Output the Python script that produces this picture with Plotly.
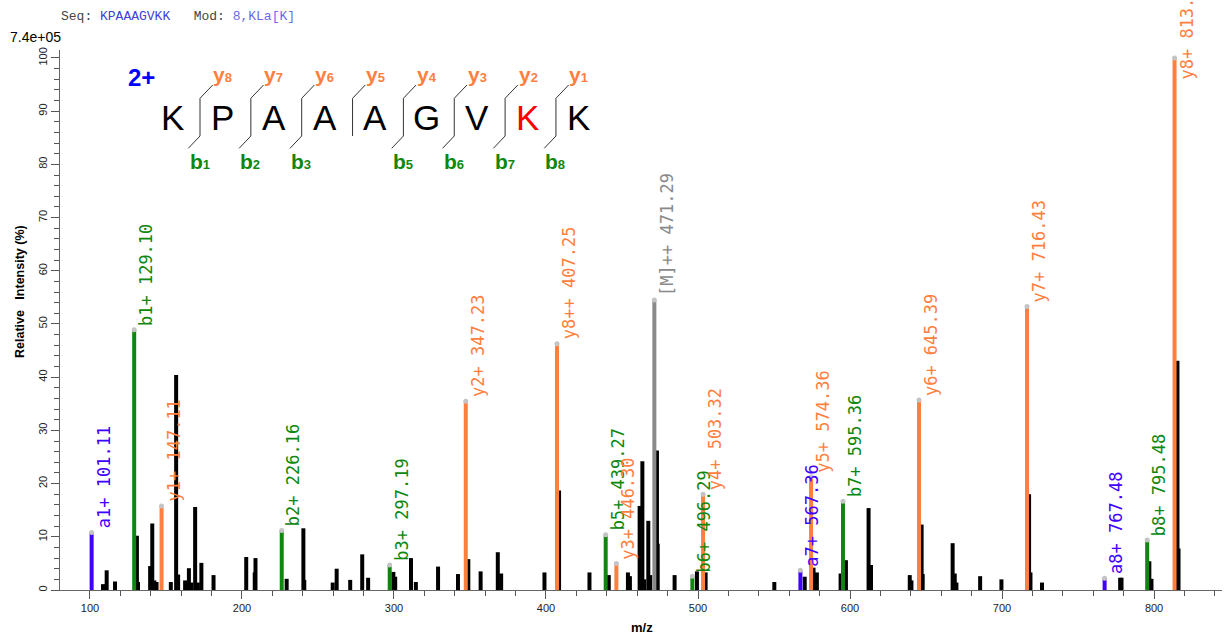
import plotly.graph_objects as go

# ---- precursor information ----
sequence = "KPAAAGVKK"
modification = "8,KLa[K]"
modified_site = 8            # 1-based residue position drawn in red
charge_state = "2+"
base_peak = "7.4e+05"

# ---- matched fragment ions ----
ion_names = ["a1+", "b1+", "y1+", "b2+", "b3+", "y2+", "y8++", "b5+", "y3+", "[M]++",
             "b6+", "y4+", "a7+", "y5+", "b7+", "y6+", "y7+", "a8+", "b8+", "y8+"]
ion_mz = [101.11, 129.10, 147.11, 226.16, 297.19, 347.23, 407.25, 439.27, 446.30, 471.29,
          496.29, 503.32, 567.36, 574.36, 595.36, 645.39, 716.43, 767.48, 795.48, 813.49]
ion_intensity = [10.8, 48.9, 15.8, 11.2, 4.7, 35.5, 46.3, 10.4, 5.0, 54.5,
                 2.6, 18.0, 3.7, 21.3, 16.7, 35.7, 53.3, 2.2, 9.4, 100.0]
ion_series = ["a", "b", "y", "b", "b", "y", "y", "b", "y", "M",
              "b", "y", "a", "y", "b", "y", "y", "a", "b", "y"]

# ---- unassigned peaks ----
peak_mz = [108.6, 111.0, 116.5, 130.9, 131.6, 139.6, 141.0, 142.3, 143.8, 153.2,
           156.7, 158.0, 162.6, 165.1, 166.6, 169.2, 171.0, 173.3, 181.3, 202.8,
           208.4, 208.9, 229.4, 240.4, 241.0, 259.7, 262.3, 271.2, 279.1, 283.0,
           299.6, 300.8, 311.2, 314.4, 329.0, 342.1, 348.9, 357.0, 368.3, 370.5,
           399.0, 408.6, 428.6, 441.3, 453.9, 455.2, 461.6, 463.4, 464.6, 467.3,
           468.6, 473.0, 473.5, 484.6, 499.3, 505.0, 550.2, 570.2, 576.0, 578.2,
           593.8, 597.3, 612.2, 613.8, 639.3, 640.4, 647.1, 647.8, 667.5, 668.9,
           670.0, 685.6, 699.6, 717.8, 718.7, 726.3, 777.7, 778.6, 796.9, 798.3,
           815.4, 816.1]
peak_intensity = [1.1, 3.7, 1.6, 10.2, 1.5, 4.5, 12.5, 1.8, 1.5, 1.5,
                  40.4, 2.9, 1.8, 4.1, 1.4, 15.6, 1.4, 5.1, 2.8, 6.2,
                  3.3, 6.0, 2.1, 11.6, 1.9, 1.4, 4.0, 1.9, 6.7, 2.3,
                  3.4, 2.5, 6.0, 1.5, 4.4, 3.0, 5.8, 3.5, 7.1, 3.1,
                  3.3, 18.7, 3.3, 2.8, 3.3, 2.6, 15.8, 24.2, 2.0, 13.0,
                  2.8, 26.2, 8.7, 2.8, 3.5, 3.3, 1.5, 2.5, 4.2, 3.3,
                  3.1, 5.6, 15.4, 4.7, 2.8, 1.8, 12.3, 3.0, 8.8, 3.1,
                  1.4, 2.6, 2.0, 18.0, 3.3, 1.4, 2.3, 2.3, 5.4, 2.1,
                  43.1, 7.8]

# ---- fragment coverage shown above/below the sequence ----
b_observed = [1, 2, 3, 5, 6, 7, 8]
y_observed = [1, 2, 3, 4, 5, 6, 7, 8]

# ---- axes ----
x_range = [80.3, 844.7]
y_range = [0, 101.5]
y_ticks = list(range(0, 101, 10))
x_ticks = [100, 200, 300, 400, 500, 600, 700, 800]

series_color = {"a": "#4000ff", "b": "#0f870f", "y": "#ff7f3f", "M": "#8a8a8a"}

# labels that would run off the top of the page are lowered (pixels)
label_drop = {"y8+": 26}

W, H = 1229, 639
ML, MR, MT, MB = 60, 7, 50, 49
PW, PH = W - ML - MR, H - MT - MB


def pxx(v):
    return (v - ML) / PW


def pxy(v):
    return (H - MB - v) / PH


def stems(xs, ys):
    sx, sy = [], []
    for m, i in zip(xs, ys):
        sx += [m, m, None]
        sy += [0, i, None]
    return sx, sy


fig = go.Figure()

nx, ny = stems(peak_mz, peak_intensity)
fig.add_trace(go.Scatter(x=nx, y=ny, mode="lines", line=dict(color="black", width=4),
                         hoverinfo="skip", showlegend=False))

for s, col in series_color.items():
    xs = [m for m, t in zip(ion_mz, ion_series) if t == s]
    ys = [i for i, t in zip(ion_intensity, ion_series) if t == s]
    sx, sy = stems(xs, ys)
    fig.add_trace(go.Scatter(x=sx, y=sy, mode="lines", line=dict(color=col, width=4),
                             hoverinfo="skip", showlegend=False))

fig.add_trace(go.Scatter(x=ion_mz, y=ion_intensity, mode="markers",
                         marker=dict(color="#c4c4c4", size=5),
                         hoverinfo="skip", showlegend=False, cliponaxis=False))

annotations = []
for name, m, i, s in zip(ion_names, ion_mz, ion_intensity, ion_series):
    annotations.append(dict(
        x=m, y=i, xref="x", yref="y", text=f"{name} {m:.2f}", textangle=-90,
        xanchor="left", yanchor="bottom", showarrow=False, xshift=0,
        yshift=2 - label_drop.get(name, 0),
        font=dict(family="DejaVu Sans Mono", size=17, color=series_color[s])))

# header line
nb = "\u00a0"
header = (f'<span style="color:#444444">Seq:{nb}</span>'
          f'<span style="color:#4040d8">{sequence}</span>'
          f'<span style="color:#444444">{nb*3}Mod:{nb}</span>'
          f'<span style="color:#6a6af0">{modification}</span>')
annotations.append(dict(x=pxx(59), y=pxy(16), xref="paper", yref="paper", text=header,
                        xanchor="left", yanchor="middle", showarrow=False,
                        font=dict(family="Liberation Mono", size=13)))
annotations.append(dict(x=pxx(8), y=pxy(37), xref="paper", yref="paper", text=base_peak,
                        xanchor="left", yanchor="middle", showarrow=False,
                        font=dict(family="Liberation Sans, Arial", size=14, color="black")))
annotations.append(dict(x=pxx(20), y=pxy(292), xref="paper", yref="paper",
                        text=f"<b>Relative{nb*3}Intensity (%)</b>", textangle=-90,
                        xanchor="center", yanchor="middle", showarrow=False,
                        font=dict(family="Liberation Sans, Arial", size=12.5, color="black")))
annotations.append(dict(x=pxx(642), y=pxy(627), xref="paper", yref="paper",
                        text="<b>m/z</b>", xanchor="center", yanchor="middle", showarrow=False,
                        font=dict(family="Liberation Sans, Arial", size=13, color="black")))

# sequence coverage diagram
step = 50.85
cut0 = 200.0
letter0 = 172.0
annotations.append(dict(x=pxx(141), y=pxy(77), xref="paper", yref="paper",
                        text=f"<b>{charge_state}</b>", xanchor="center", yanchor="middle",
                        showarrow=False,
                        font=dict(family="Liberation Sans, Arial", size=24, color="#0000ff")))
for idx, aa in enumerate(sequence):
    col = "#ff0000" if idx + 1 == modified_site else "black"
    annotations.append(dict(x=pxx(letter0 + idx * step), y=pxy(117.5), xref="paper",
                            yref="paper", text=aa, xanchor="center", yanchor="middle",
                            showarrow=False,
                            font=dict(family="Liberation Sans, Arial", size=35, color=col)))

shapes = []
n = len(sequence)
for k in range(1, n):
    cx = cut0 + (k - 1) * step
    line = dict(color="#333333", width=1)
    shapes.append(dict(type="line", xref="paper", yref="paper", x0=pxx(cx), x1=pxx(cx),
                       y0=pxy(98.3), y1=pxy(136), line=line))
    yi = n - k
    if yi in y_observed:
        shapes.append(dict(type="line", xref="paper", yref="paper", x0=pxx(cx), x1=pxx(cx + 12.7),
                           y0=pxy(98.3), y1=pxy(85), line=line))
        annotations.append(dict(
            x=pxx(cx + 11.5), y=pxy(74.5), xref="paper", yref="paper",
            text=f'<b>y<span style="font-size:13px">{yi}</span></b>',
            xanchor="left", yanchor="middle", showarrow=False,
            font=dict(family="Liberation Sans, Arial", size=21, color="#ff7f3f")))
    if k in b_observed:
        shapes.append(dict(type="line", xref="paper", yref="paper", x0=pxx(cx), x1=pxx(cx - 11.7),
                           y0=pxy(136), y1=pxy(148.3), line=line))
        annotations.append(dict(
            x=pxx(cx - 12.5), y=pxy(161), xref="paper", yref="paper",
            text=f'<b>b<span style="font-size:13px">{k}</span></b>',
            xanchor="left", yanchor="middle", showarrow=False,
            font=dict(family="Liberation Sans, Arial", size=21, color="#0f870f")))

axis_font = dict(family="Liberation Sans, Arial", size=11, color="#222222")
fig.update_layout(
    width=W, height=H,
    margin=dict(l=ML, r=MR, t=MT, b=MB),
    paper_bgcolor="white", plot_bgcolor="white",
    annotations=annotations, shapes=shapes,
    xaxis=dict(range=x_range, tickvals=x_ticks, ticks="outside", ticklen=8, tickcolor="#555555",
               showline=True, linecolor="#666666", linewidth=1, showgrid=False, zeroline=False,
               tickfont=axis_font,
               minor=dict(dtick=20, tick0=0, ticks="outside", ticklen=5, tickcolor="#555555",
                          showgrid=False)),
    yaxis=dict(range=y_range, tickvals=y_ticks, ticks="outside", ticklen=8, tickcolor="#555555",
               showline=True, linecolor="#666666", linewidth=1, showgrid=False, zeroline=False,
               tickangle=-90, tickfont=axis_font,
               minor=dict(dtick=2, tick0=0, ticks="outside", ticklen=5, tickcolor="#555555",
                          showgrid=False)),
)

fig.write_html("out.html")
